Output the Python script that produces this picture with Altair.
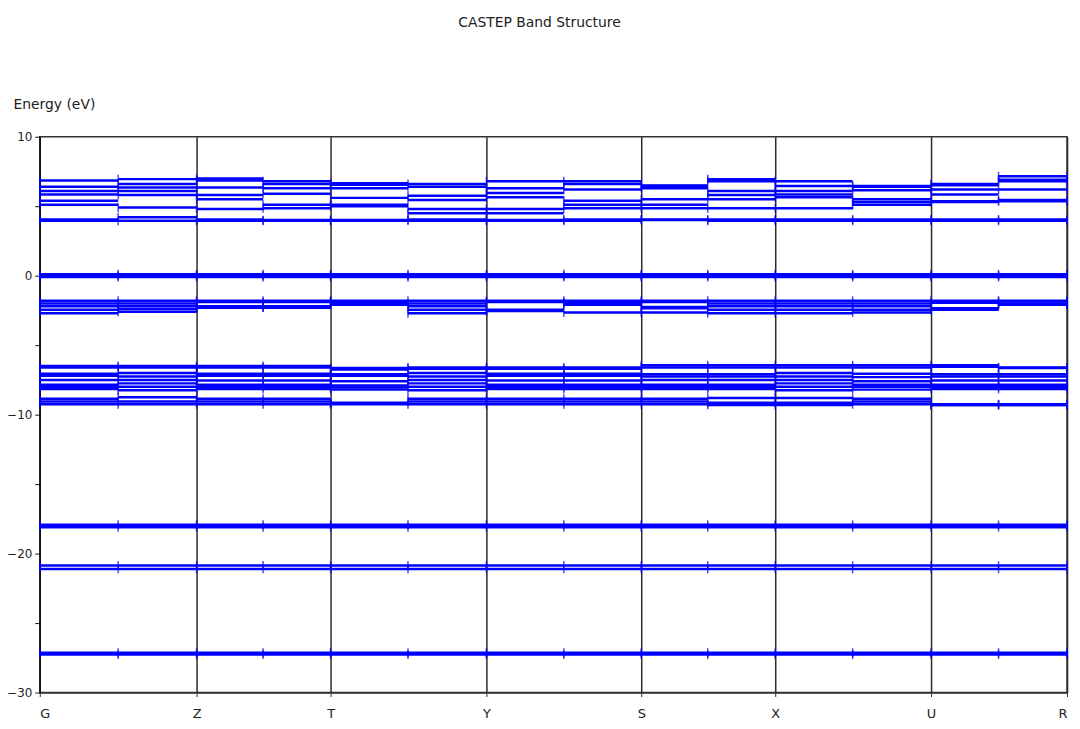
import altair as alt
import pandas as pd

# high-symmetry points along the k-path
k_sym = [0, 158, 293, 450, 606, 741, 898, 1035]
k_labels = ["G", "Z", "T", "Y", "S", "X", "U", "R"]
# sampled k-points (high-symmetry points and midpoints)
k_grid = [0, 79, 158, 225, 293, 371, 450, 528, 606, 673, 741, 819, 898, 966, 1035]

# energies (eV) per k-segment, conduction bands
cA = [3.95, 3.95, 3.95, 3.95, 3.95, 3.95, 3.95, 3.95, 4.0, 3.95, 3.95, 3.95, 3.95, 3.95]
cB = [4.05, 4.2, 4.05, 4.0, 4.0, 4.05, 4.0, 4.05, 4.05, 4.05, 4.05, 4.05, 4.05, 4.05]
cC = [5.1, 4.9, 4.8, 4.85, 5.0, 4.5, 4.5, 4.85, 4.85, 4.85, 4.85, 5.1, 5.3, 5.35]
cD = [5.4, 5.8, 5.5, 5.1, 5.1, 4.8, 4.8, 5.1, 5.1, 5.5, 5.65, 5.3, 5.35, 5.45]
cE = [5.85, 6.1, 5.8, 5.9, 5.6, 5.45, 5.65, 5.4, 5.5, 5.8, 5.85, 5.5, 5.85, 6.2]
cF = [6.1, 6.35, 6.35, 6.3, 6.3, 5.75, 5.95, 6.2, 6.3, 6.1, 6.1, 6.15, 6.2, 6.8]
cG = [6.4, 6.6, 6.85, 6.6, 6.55, 6.4, 6.3, 6.6, 6.45, 6.8, 6.45, 6.4, 6.5, 6.9]
cH = [6.85, 6.95, 7.0, 6.8, 6.65, 6.6, 6.8, 6.8, 6.5, 6.95, 6.8, 6.45, 6.6, 7.15]

# valence bands near -2 eV
vA = [-1.8, -1.8, -1.8, -1.8, -1.8, -1.8, -1.8, -1.8, -1.8, -1.8, -1.8, -1.8, -1.8, -1.8]
vB = [-2.0, -2.0, -1.9, -1.9, -1.85, -2.0, -1.9, -1.9, -1.9, -2.0, -2.0, -2.0, -1.95, -1.85]
vC = [-2.2, -2.2, -2.2, -2.2, -1.95, -2.2, -2.45, -2.0, -2.25, -2.2, -2.2, -2.2, -2.35, -2.0]
vD = [-2.45, -2.4, -2.3, -2.3, -2.05, -2.45, -2.5, -2.1, -2.35, -2.45, -2.45, -2.45, -2.45, -2.05]
vE = [-2.7, -2.6, -2.3, -2.3, -2.1, -2.7, -2.55, -2.65, -2.65, -2.7, -2.7, -2.65, -2.45, -2.1]

# valence bands between -6.5 and -9.3 eV
t1 = [-6.5, -6.5, -6.5, -6.5, -6.65, -6.6, -6.6, -6.6, -6.45, -6.45, -6.45, -6.45, -6.45, -6.6]
t2 = [-6.6, -6.6, -6.6, -6.6, -6.75, -6.7, -6.7, -6.7, -6.6, -6.6, -6.6, -6.6, -6.55, -6.65]
m1 = [-7.05, -7.0, -7.05, -7.05, -7.1, -7.0, -7.05, -7.05, -7.1, -7.1, -7.0, -7.05, -7.1, -7.1]
m2 = [-7.2, -7.25, -7.2, -7.2, -7.2, -7.25, -7.2, -7.2, -7.25, -7.25, -7.25, -7.3, -7.25, -7.25]
m3 = [-7.5, -7.5, -7.55, -7.55, -7.6, -7.5, -7.55, -7.55, -7.5, -7.5, -7.5, -7.6, -7.55, -7.55]
m4 = [-7.85, -7.75, -7.85, -7.85, -7.9, -7.75, -7.85, -7.85, -7.85, -7.85, -7.75, -7.85, -7.85, -7.85]
m5 = [-8.0, -8.0, -8.0, -8.0, -8.05, -8.0, -8.0, -8.0, -8.0, -8.0, -8.0, -8.0, -8.0, -8.0]
m6 = [-8.15, -8.25, -8.15, -8.15, -8.2, -8.25, -8.15, -8.15, -8.15, -8.15, -8.25, -8.2, -8.15, -8.15]
b1 = [-8.85, -8.75, -8.85, -8.85, -9.15, -8.85, -8.85, -8.85, -8.85, -8.8, -8.8, -8.85, -9.25, -9.25]
b2 = [-9.05, -9.05, -9.05, -9.05, -9.2, -9.05, -9.05, -9.05, -9.05, -9.15, -9.15, -9.05, -9.3, -9.3]
b3 = [-9.25, -9.25, -9.25, -9.25, -9.25, -9.25, -9.25, -9.25, -9.25, -9.3, -9.3, -9.25, -9.3, -9.3]

# flat bands (eV)
flat_bands = [0.1, 0.0, -0.1, -17.93, -18.1, -20.86, -21.1, -27.13, -27.27]

bands = [cA, cB, cC, cD, cE, cF, cG, cH, vA, vB, vC, vD, vE,
         t1, t2, m1, m2, m3, m4, m5, m6, b1, b2, b3]
bands += [[e] * (len(k_grid) - 1) for e in flat_bands]

seg_rows, tick_rows = [], []
for b, vals in enumerate(bands):
    for i in range(len(k_grid) - 1):
        seg_rows.append({"band": b, "x": k_grid[i], "x2": k_grid[i + 1], "e": vals[i]})
    for j in range(len(k_grid)):
        tick_rows.append({"band": b, "x": k_grid[j], "e": vals[min(j, len(vals) - 1)]})
segs = pd.DataFrame(seg_rows)
ticks = pd.DataFrame(tick_rows)

FONT = "DejaVu Sans"
BLUE = "#0000ff"

xs = alt.Scale(domain=[0, 1035], nice=False, zero=False)
ys = alt.Scale(domain=[-30, 10], nice=False, zero=False)

label_expr = "[" + ",".join("'%s'" % s for s in k_labels) + "][indexof([" + \
    ",".join(str(v) for v in k_sym) + "], datum.value)]"

xaxis = alt.Axis(values=k_sym, labelExpr=label_expr, title=None, grid=True,
                 gridColor="#2a2a2a", gridWidth=1.5, gridOpacity=1,
                 domainColor="#333333", domainWidth=1.5, tickColor="#333333",
                 tickSize=4, labelPadding=11, labelFont=FONT, labelFontSize=13,
                 labelColor="#222222")
yaxis = alt.Axis(values=list(range(-30, 11, 5)),
                 labelExpr="datum.value % 10 == 0 ? format(datum.value, 'd') : ''",
                 title="Energy (eV)", titleAngle=0, titleX=-27, titleY=-32,
                 titleAlign="left", titleBaseline="middle", titleFont=FONT,
                 titleFontSize=14, titleFontWeight="normal", titleColor="#222222",
                 grid=False, domainColor="#111111", domainWidth=1.5,
                 tickColor="#111111", tickSize=5, labelPadding=3,
                 labelFont=FONT, labelFontSize=12, labelColor="#222222")

lines = alt.Chart(segs).mark_rule(color=BLUE, strokeWidth=2.5).encode(
    x=alt.X("x:Q", scale=xs, axis=xaxis),
    x2="x2:Q",
    y=alt.Y("e:Q", scale=ys, axis=yaxis),
)
marks = alt.Chart(ticks).mark_tick(color=BLUE, orient="vertical", size=9, thickness=1.5).encode(
    x=alt.X("x:Q", scale=xs),
    y=alt.Y("e:Q", scale=ys),
)

chart = alt.layer(lines, marks).properties(
    width=1035, height=560,
    title=alt.Title("CASTEP Band Structure", font=FONT, fontSize=14,
                    fontWeight="normal", color="#222222", anchor="middle",
                    offset=69, dx=-14),
    autosize=alt.AutoSizeParams(type="none"),
    padding={"left": 32, "top": 127, "right": 5, "bottom": 32},
).configure_view(stroke="#333333", strokeWidth=1.5)

chart.save("out.html", embed_options={"renderer": "svg", "actions": False})
